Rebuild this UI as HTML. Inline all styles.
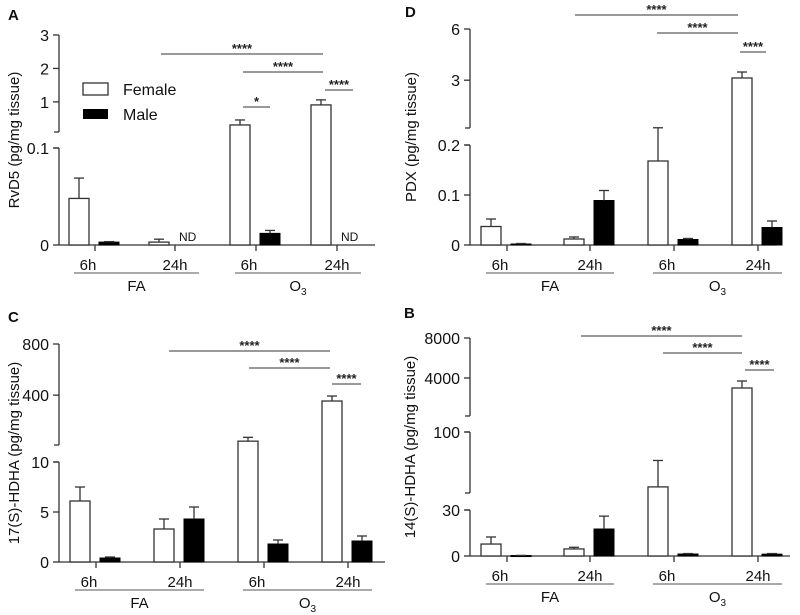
<!DOCTYPE html>
<html><head><meta charset="utf-8"><style>
html,body{margin:0;padding:0;background:#fff;}
svg{display:block;font-family:"Liberation Sans",Arial,sans-serif;}
</style></head><body>
<svg id="fig" width="800" height="615" viewBox="0 0 800 615"></svg>
<script>
const groups = ["FA 6h","FA 24h","O3 6h","O3 24h"];
// Panel A RvD5
const aFemale = [0.048, 0.003, 0.31, 0.91];
const aFemaleErr = [0.021, 0.003, 0.15, 0.15];
const aMale = [0.003, null, 0.012, null];
const aMaleErr = [0.0005, null, 0.003, null];
const aTicks = [0, 0.1, 1, 2, 3];
// Panel D PDX
const dFemale = [0.037, 0.012, 0.168, 3.13];
const dFemaleErr = [0.015, 0.004, 0.045, 0.35];
const dMale = [0.002, 0.089, 0.011, 0.035];
const dMaleErr = [0.001, 0.02, 0.002, 0.013];
const dTicks = [0, 0.1, 0.2, 3, 6];
// Panel C 17(S)-HDHA
const cFemale = [6.1, 3.3, 40, 354];
const cFemaleErr = [1.4, 1.0, 30, 39];
const cMale = [0.4, 4.3, 1.8, 2.1];
const cMaleErr = [0.1, 1.2, 0.4, 0.5];
const cTicks = [0, 5, 10, 400, 800];
// Panel B 14(S)-HDHA
const bFemale = [7.8, 4.6, 46, 3000];
const bFemaleErr = [4.6, 1.1, 26, 700];
const bMale = [0.3, 17.6, 1.3, 1.2];
const bMaleErr = [0.1, 8.4, 0.3, 0.4];
const bTicks = [0, 30, 100, 4000, 8000];

const NS="http://www.w3.org/2000/svg";
const svg=document.getElementById('fig');
function mk(tag,attrs,parent){const e=document.createElementNS(NS,tag);for(const k in attrs)e.setAttribute(k,attrs[k]);(parent||svg).appendChild(e);return e;}

const panels=[
 {id:'a',letter:'A',lx:8,ly:20,ax:59,ylx:14,axEnd:375,ylab:'RvD5 (pg/mg tissue)',
  segs:[{v0:0,v1:0.1,p0:245,p1:148},{v0:0.1,v1:3,p0:132,p1:35}],
  F:aFemale,FE:aFemaleErr,M:aMale,ME:aMaleErr,ticks:aTicks,tickx:[95,175,256,337],
  sig:[{y:54,x1:161,x2:323,t:'****'},{y:72,x1:243,x2:323,t:'****'},{y:90,x1:325,x2:353,t:'****'},{y:107,x1:243,x2:270,t:'*'}],
  nd:true,legend:true},
 {id:'d',letter:'D',lx:405,ly:17,ax:470,ylx:411,axEnd:777,ylab:'PDX (pg/mg tissue)',
  segs:[{v0:0,v1:0.2,p0:245,p1:145},{v0:0.2,v1:6,p0:128,p1:29}],
  F:dFemale,FE:dFemaleErr,M:dMale,ME:dMaleErr,ticks:dTicks,tickx:[507,590,674,758],
  sig:[{y:15,x1:575,x2:738,t:'****'},{y:33,x1:657,x2:738,t:'****'},{y:52,x1:740,x2:766,t:'****'}]},
 {id:'c',letter:'C',lx:8,ly:322,ax:59,ylx:14,axEnd:385,ylab:'17(S)-HDHA (pg/mg tissue)',
  segs:[{v0:0,v1:10,p0:562,p1:462},{v0:10,v1:800,p0:445,p1:344}],
  F:cFemale,FE:cFemaleErr,M:cMale,ME:cMaleErr,ticks:cTicks,tickx:[96,180,264,348],
  sig:[{y:351,x1:169,x2:330,t:'****'},{y:368,x1:249,x2:330,t:'****'},{y:384,x1:332,x2:361,t:'****'}]},
 {id:'b',letter:'B',lx:404,ly:318,ax:470,ylx:410,axEnd:790,ylab:'14(S)-HDHA (pg/mg tissue)',
  segs:[{v0:0,v1:30,p0:556,p1:510},{v0:40,v1:100,p0:493,p1:432},{v0:200,v1:8000,p0:416,p1:338}],
  F:bFemale,FE:bFemaleErr,M:bMale,ME:bMaleErr,ticks:bTicks,tickx:[507,590,674,758],
  sig:[{y:336,x1:581,x2:742,t:'****'},{y:353,x1:663,x2:742,t:'****'},{y:370,x1:745,x2:774,t:'****'}]}
];

function yScale(p,v){
 const s=p.segs;
 for(let i=0;i<s.length;i++){
  const g=s[i];
  if(v<=g.v1||i===s.length-1){
   const vv=Math.max(v,g.v0);
   return g.p0+(vv-g.v0)/(g.v1-g.v0)*(g.p1-g.p0);
  }
  if(i<s.length-1&&v<s[i+1].v0){return g.p1;}
 }
}

panels.forEach(p=>{
 const g=mk('g',{});
 
 
 const base=p.segs[0].p0;
 const t=mk('text',{x:p.lx,y:p.ly,'font-size':15,'font-weight':'bold',fill:'#111'},g);t.textContent=p.letter;
 
 p.segs.forEach((s,i)=>{
  const l=mk('line',{x1:p.ax,x2:p.ax,y1:s.p0,y2:s.p1,stroke:'#333','stroke-width':1.3},g);
  
  if(i>0){mk('line',{x1:p.ax-5,x2:p.ax,y1:s.p0,y2:s.p0,stroke:'#333','stroke-width':1.3},g);}
  if(i<p.segs.length-1){mk('line',{x1:p.ax-5,x2:p.ax,y1:s.p1,y2:s.p1,stroke:'#333','stroke-width':1.3},g);}
 });
 p.ticks.forEach(v=>{
  const y=yScale(p,v);
  mk('line',{x1:p.ax-6,x2:p.ax,y1:y,y2:y,stroke:'#333','stroke-width':1.3},g);
  const tl=mk('text',{x:p.ax-10,y:y+6,'font-size':16,'text-anchor':'end',fill:'#111'},g);tl.textContent=String(v);
  
 });
 const yt=p.segs[p.segs.length-1].p1, ym=(base+yt)/2, yx=p.ylx+5;
 const yl=mk('text',{x:yx,y:ym,'font-size':15,'text-anchor':'middle',fill:'#111',transform:`rotate(-90 ${yx} ${ym})`},g);
 yl.textContent=p.ylab;
 const xa=mk('line',{x1:p.ax,x2:p.axEnd,y1:base,y2:base,stroke:'#333','stroke-width':1.3},g);
 
 p.tickx.forEach((tx,i)=>{
  mk('line',{x1:tx,x2:tx,y1:base,y2:base+6,stroke:'#333','stroke-width':1.3},g);
  const lab=mk('text',{x:tx-(i%2?0:7),y:base+25,'font-size':15,'text-anchor':'middle',fill:'#111'},g);
  lab.textContent=i%2?'24h':'6h';
  const fv=p.F[i];
  const fy=yScale(p,fv);
  const fb=mk('rect',{x:tx-26,y:fy,width:20,height:base-fy,fill:'#fff',stroke:'#333','stroke-width':1.3},g);
  
  const fe=yScale(p,fv+p.FE[i]);
  mk('line',{x1:tx-16,x2:tx-16,y1:fy,y2:fe,stroke:'#333','stroke-width':1.3},g);
  mk('line',{x1:tx-21,x2:tx-11,y1:fe,y2:fe,stroke:'#333','stroke-width':1.3},g);
  const mv=p.M[i];
  if(mv===null){
   const nd=mk('text',{x:tx+4,y:base-4,'font-size':12,fill:'#111'},g);nd.textContent='ND';
   
  } else {
   const my=yScale(p,mv);
   const mb=mk('rect',{x:tx+4,y:my,width:20,height:Math.max(base-my,1),fill:'#000',stroke:'#000','stroke-width':1},g);
   
   const me=yScale(p,mv+p.ME[i]);
   mk('line',{x1:tx+14,x2:tx+14,y1:my,y2:me,stroke:'#333','stroke-width':1.3},g);
   mk('line',{x1:tx+9,x2:tx+19,y1:me,y2:me,stroke:'#333','stroke-width':1.3},g);
  }
 });
 [[0,1,'FA'],[2,3,'O₃']].forEach(([a,b,name])=>{
  const x1=p.tickx[a]-21,x2=p.tickx[b]+24;
  const ul=mk('line',{x1:x1,x2:x2,y1:base+28,y2:base+28,stroke:'#555','stroke-width':1},g);
  
  const gt=mk('text',{x:(x1+x2)/2,y:base+46,'font-size':15,'text-anchor':'middle',fill:'#111'},g);
  if(name==='FA'){gt.textContent='FA';}
  else{gt.textContent='O';const s=mk('tspan',{'font-size':10,dy:4},gt);s.textContent='3';}
  
 });
 p.sig.forEach(s=>{
  const l=mk('line',{x1:s.x1,x2:s.x2,y1:s.y,y2:s.y,stroke:'#333','stroke-width':1},g);
  
  const st=mk('text',{x:(s.x1+s.x2)/2,y:s.y-1,'font-size':13,'font-weight':'bold','text-anchor':'middle',fill:'#222'},g);
  st.textContent=s.t;
 });
 if(p.legend){
  const lf=mk('rect',{x:83,y:83,width:25,height:12,fill:'#fff',stroke:'#333','stroke-width':1.3},g);
  
  const t1=mk('text',{x:123,y:95,'font-size':16,fill:'#111'},g);t1.textContent='Female';
  
  const lm=mk('rect',{x:83,y:109,width:25,height:10,fill:'#000'},g);
  
  const t2=mk('text',{x:123,y:120,'font-size':16,fill:'#111'},g);t2.textContent='Male';
  
 }
});
</script>
</body></html>
